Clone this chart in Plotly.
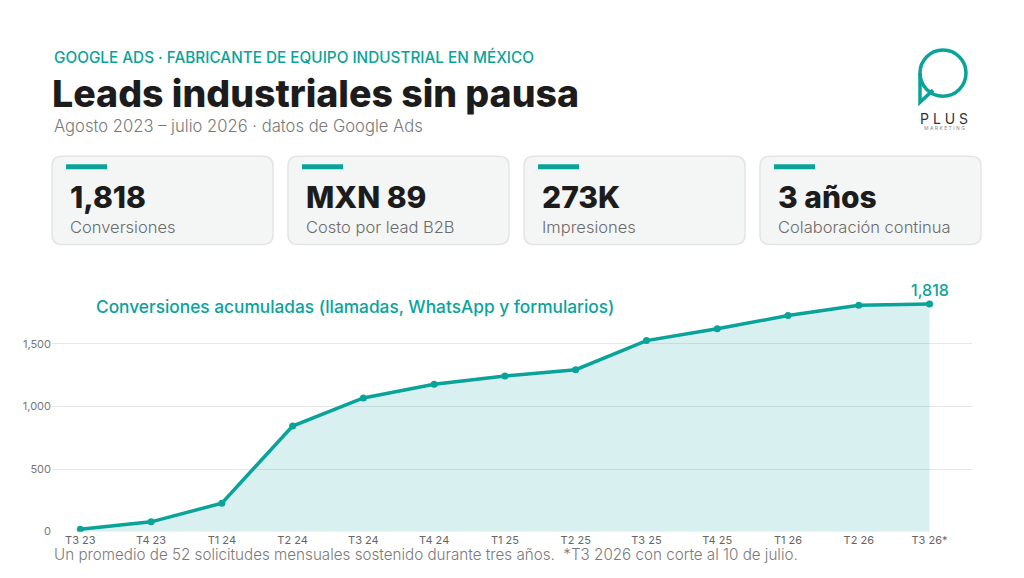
import plotly.graph_objects as go

# the page body has an 8px margin; the figure is sized so the drawing lands where the reference has it
OFF = 8
W = 1024 - 2 * OFF
H_DRAW = 578 - 2 * OFF
H = H_DRAW + OFF
TEAL = "#0aa39a"
FONT = "Inter, sans-serif"

quarters = ["T3 23", "T4 23", "T1 24", "T2 24", "T3 24", "T4 24", "T1 25",
            "T2 25", "T3 25", "T4 25", "T1 26", "T2 26", "T3 26*"]
conversions = [19, 78, 227, 843, 1067, 1177, 1243, 1293, 1525, 1619, 1725, 1808, 1818]

kpi_values = ["1,818", "MXN 89", "273K", "3 años"]
kpi_labels = ["Conversiones", "Costo por lead B2B", "Impresiones", "Colaboración continua"]
y_ticks = [0, 500, 1000, 1500]


def px(x):
    return (x - OFF) / W


def py(y):
    return 1 - (y - OFF) / H_DRAW


def rounded_rect(x0, y0, x1, y1, r):
    # path in paper coords, corners given in reference pixels
    return (f"M {px(x0 + r)},{py(y0)} L {px(x1 - r)},{py(y0)} "
            f"Q {px(x1)},{py(y0)} {px(x1)},{py(y0 + r)} L {px(x1)},{py(y1 - r)} "
            f"Q {px(x1)},{py(y1)} {px(x1 - r)},{py(y1)} L {px(x0 + r)},{py(y1)} "
            f"Q {px(x0)},{py(y1)} {px(x0)},{py(y1 - r)} L {px(x0)},{py(y0 + r)} "
            f"Q {px(x0)},{py(y0)} {px(x0 + r)},{py(y0)} Z")


fig = go.Figure()
fig.add_trace(go.Scatter(
    x=quarters, y=conversions, mode="lines+markers",
    line=dict(color=TEAL, width=3.5),
    marker=dict(color=TEAL, size=7),
    fill="tozeroy", fillcolor="rgba(10,163,154,0.16)",
    hoverinfo="skip", showlegend=False,
))

shapes = []
annotations = []

# kpi cards
card_x = [52, 288, 524, 760]
for i, x0 in enumerate(card_x):
    shapes.append(dict(type="path", xref="paper", yref="paper",
                       path=rounded_rect(x0, 156, x0 + 221, 244, 10),
                       line=dict(color="#e3e5e4", width=1.5),
                       fillcolor="#f4f6f5", layer="below"))
    shapes.append(dict(type="rect", xref="paper", yref="paper",
                       x0=px(x0 + 14), x1=px(x0 + 55), y0=py(169), y1=py(164),
                       line=dict(width=0), fillcolor=TEAL))
    annotations.append(dict(text=kpi_values[i], x=px(x0 + 16), y=py(197),
                            xanchor="left", yanchor="middle",
                            font=dict(size=30, color="#1c1c1c", family=FONT, weight=800)))
    annotations.append(dict(text=kpi_labels[i], x=px(x0 + 16), y=py(227),
                            xanchor="left", yanchor="middle",
                            font=dict(size=16.5, color="#6b6b6b", family=FONT, weight=300)))

# logo
shapes.append(dict(type="circle", xref="paper", yref="paper",
                   x0=px(920), x1=px(966), y0=py(96), y1=py(50),
                   line=dict(color=TEAL, width=3.5)))
shapes.append(dict(type="path", xref="paper", yref="paper",
                   path=f"M {px(920)},{py(73)} L {px(920)},{py(102)} L {px(933)},{py(90)}",
                   line=dict(color=TEAL, width=3.5)))
annotations.append(dict(text="P L U S", x=px(944), y=py(118), xanchor="center", yanchor="middle",
                        font=dict(size=14, color="#333333", family=FONT, weight=400)))
annotations.append(dict(text="M A R K E T I N G", x=px(944), y=py(128), xanchor="center", yanchor="middle",
                        font=dict(size=5, color="#888888", family=FONT)))

# header texts
annotations.append(dict(text="GOOGLE ADS · FABRICANTE DE EQUIPO INDUSTRIAL EN MÉXICO",
                        x=px(52), y=py(57), xanchor="left", yanchor="middle",
                        font=dict(size=15.3, color=TEAL, family=FONT, weight=500)))
annotations.append(dict(text="Leads industriales sin pausa",
                        x=px(50), y=py(93), xanchor="left", yanchor="middle",
                        font=dict(size=37.5, color="#1c1c1c", family=FONT, weight=800)))
annotations.append(dict(text="Agosto 2023 – julio 2026 · datos de Google Ads",
                        x=px(52), y=py(126), xanchor="left", yanchor="middle",
                        font=dict(size=16.6, color="#7a7a7a", family=FONT, weight=300)))

annotations.append(dict(text="Conversiones acumuladas (llamadas, WhatsApp y formularios)",
                        x=px(94), y=py(306), xanchor="left", yanchor="middle",
                        font=dict(size=17.3, color=TEAL, family=FONT, weight=500)))
annotations.append(dict(text=f"{conversions[-1]:,}", x=quarters[-1], y=conversions[-1],
                        xref="x", yref="y", yshift=14, xanchor="center", yanchor="middle",
                        showarrow=False,
                        font=dict(size=16, color=TEAL, family=FONT, weight=500)))
annotations.append(dict(text="Un promedio de 52 solicitudes mensuales sostenido durante tres años.  *T3 2026 con corte al 10 de julio.",
                        x=px(52), y=py(554), xanchor="left", yanchor="middle",
                        font=dict(size=15.2, color="#7a7a7a", family=FONT, weight=300)))

for a in annotations:
    a.setdefault("xref", "paper")
    a.setdefault("yref", "paper")
    a.setdefault("showarrow", False)

fig.update_layout(
    width=W, height=H,
    margin=dict(l=0, r=0, t=0, b=0),
    paper_bgcolor="white", plot_bgcolor="white",
    font=dict(family=FONT, color="#666666"),
    shapes=shapes, annotations=annotations,
    xaxis=dict(domain=[px(52), px(972)], range=[-0.4, 12.6],
               showgrid=False, zeroline=False, showline=False,
               tickfont=dict(size=11, color="#666666", family=FONT), ticks=""),
    yaxis=dict(domain=[py(530.7), py(280)], range=[0, 2005],
               tickvals=y_ticks, tickformat=",", showgrid=True,
               gridcolor="#e8e8e8", gridwidth=1, zeroline=False, showline=False,
               tickfont=dict(size=11, color="#777777", family=FONT), ticks=""),
)

fig.write_html("out.html")
